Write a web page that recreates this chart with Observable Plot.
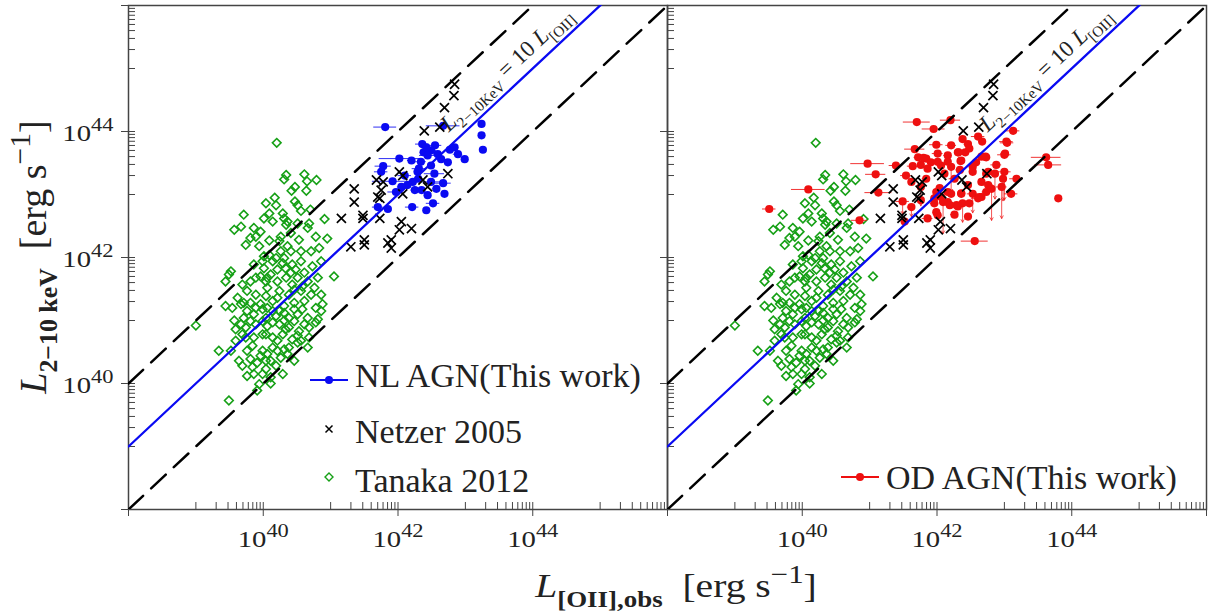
<!DOCTYPE html>
<html><head><meta charset="utf-8">
<script src="https://cdn.jsdelivr.net/npm/d3@7"></script>
<script src="https://cdn.jsdelivr.net/npm/@observablehq/plot@0.6"></script>
<style>
body{margin:0;background:#fff;}
#wrap{position:relative;width:1208px;height:612px;overflow:hidden;background:#fff;}
#wrap > *{position:absolute;top:0;}
#wrap svg text{font-family:'Liberation Serif','DejaVu Serif',serif;}
</style></head><body><div id="wrap"></div>
<script>
// ---------------- data (log10 of luminosities, erg/s) ----------------
// Tanaka 2012 (green diamonds)
const tanakaLogOII = [
 40.20,40.34,40.31,40.61,40.65,40.79,40.42,40.47,40.64,40.17,
 40.04,40.19,40.29,40.09,40.47,40.51,40.56,40.70,39.71,40.01,
 40.14,40.31,40.36,39.57,39.67,39.86,39.96,40.34,40.51,40.68,
 40.91,39.81,39.89,40.26,40.41,40.66,40.78,40.95,39.74,39.94,
 40.09,40.24,40.36,40.53,40.71,40.83,40.09,40.26,40.41,40.56,
 39.52,39.44,39.49,39.86,39.99,40.14,40.29,40.43,40.56,40.73,
 40.86,41.05,39.69,39.81,39.96,40.11,40.21,40.34,40.51,40.66,
 40.81,39.62,39.76,39.89,40.06,40.24,40.38,40.56,40.76,40.86,
 39.44,39.67,39.81,39.96,40.14,40.31,40.46,40.61,40.88,39.57,
 39.71,39.86,40.04,40.19,40.31,40.51,40.66,40.81,40.86,39.59,
 39.74,39.89,40.06,40.24,40.38,40.53,40.68,40.78,39.59,39.86,
 39.99,40.14,40.29,40.43,40.56,40.68,39.34,39.52,39.84,39.99,
 40.14,40.31,40.51,40.66,39.64,39.81,39.96,40.11,40.26,39.69,
 39.84,40.04,40.19,39.76,39.99,40.29,39.94,40.11,39.91,39.49,
 39.00,40.01,40.21,40.41,40.04,40.21,40.46,40.14,40.31,39.99,
 39.76,40.38,40.04,40.21,40.36,39.76,40.46,39.91,40.06,40.31,
 40.61,40.71,40.78,40.58,39.69,39.54,40.01,40.19,40.33,40.48,
 39.89,40.04,40.43,40.58,39.71,39.89,40.06,40.24,40.46,39.67,
 39.81,39.99,40.14,40.46,40.61,39.74,40.33,40.51,40.06,40.21,
 40.38,40.04,39.86,40.11
];
const tanakaLogLX = [
 43.82,43.31,43.24,43.32,43.21,43.23,43.06,43.12,43.06,42.95,
 42.86,42.83,42.70,42.70,42.89,42.83,42.74,42.76,42.68,42.62,
 42.57,42.62,42.57,42.44,42.49,42.47,42.41,42.52,42.54,42.54,
 42.61,42.31,42.33,42.33,42.39,42.47,42.33,42.30,42.20,42.18,
 42.27,42.26,42.18,42.28,42.10,42.15,42.04,42.10,42.10,42.10,
 41.78,41.62,41.73,41.89,41.94,41.94,41.91,41.89,41.94,41.86,
 41.94,41.70,41.57,41.62,41.70,41.73,41.62,41.68,41.68,41.62,
 41.68,41.36,41.47,41.41,41.52,41.47,41.41,41.47,41.52,41.41,
 41.23,41.26,41.28,41.26,41.31,41.23,41.28,41.31,41.26,41.00,
 41.04,41.10,41.04,41.07,41.00,41.10,41.04,41.02,41.15,40.86,
 40.89,40.94,40.91,40.94,40.89,40.83,40.89,40.97,40.68,40.73,
 40.78,40.73,40.78,40.70,40.68,40.73,40.52,40.52,40.60,40.52,
 40.57,40.54,40.65,40.57,40.36,40.39,40.44,40.36,40.41,40.28,
 40.26,40.23,40.28,40.12,40.15,40.15,39.99,40.00,39.89,39.73,
 40.92,41.83,41.81,41.76,41.39,41.36,41.49,41.15,41.12,41.18,
 41.15,41.04,40.78,40.68,40.47,40.52,40.36,40.33,41.68,41.99,
 41.76,41.41,41.20,41.18,40.78,41.20,42.02,41.99,41.83,41.81,
 41.68,41.62,41.57,41.54,41.28,41.20,41.20,41.15,41.18,40.94,
 40.99,40.99,40.97,40.99,40.94,40.73,40.86,40.76,40.47,40.52,
 40.57,40.36,40.15,40.10
];
// Netzer 2005 (black crosses)
const netzerLogOII = [42.84,42.83,42.69,42.62,42.39,42.02,42.07,41.68,41.78,41.75,
 41.70,41.73,41.35,41.35,42.07,42.37,42.44,42.74,41.16,41.48,
 41.48,41.73,42.05,42.02,42.20,41.30,41.50,41.50,41.85,41.90,41.90];
const netzerLogLX = [44.75,44.57,44.38,44.07,44.01,43.36,43.30,43.23,43.20,43.07,
 42.96,42.94,43.09,42.88,43.01,43.23,43.12,43.33,42.62,42.67,
 42.62,42.62,42.57,42.44,42.46,42.17,42.28,42.20,42.23,42.28,42.15];
// NL AGN, this work (blue) with [OII] error (dex)
const nlLogOII = [41.81,42.67,43.24,43.24,43.26,42.36,42.55,42.38,42.49,42.44,
 42.77,42.84,42.99,42.02,42.20,42.34,42.64,41.78,42.31,42.29,
 42.54,41.92,42.10,42.22,42.49,42.67,42.69,42.35,42.25,42.14,
 41.97,41.70,41.85,42.21,42.42,42.52,42.49,42.59,42.42,42.05,
 42.30,42.74,42.89,41.75,42.44,42.57];
const nlLogLX = [44.07,44.09,44.12,43.94,43.71,43.80,43.78,43.67,43.70,43.62,
 43.71,43.75,43.56,43.57,43.54,43.52,43.56,43.45,43.41,43.36,
 43.33,43.21,43.30,43.20,43.20,43.18,43.01,43.07,43.07,43.15,
 43.04,42.80,42.77,42.80,42.75,42.86,43.46,43.64,43.75,43.12,
 43.25,43.51,43.64,43.36,42.99,43.09];
const nlErrOII = [0.17,0.25,0,0,0,0.10,0.10,0.05,0.08,0.12,
 0.06,0.05,0,0.30,0.06,0.08,0.05,0.12,0.10,0.05,
 0.15,0.30,0.10,0.08,0.15,0.12,0,0.05,0.06,0.05,
 0.12,0.08,0.05,0.10,0,0.10,0.05,0.06,0.05,0.06,
 0.05,0,0.07,0.10,0.05,0.06];
// OD AGN, this work (red) with [OII] error (dex) and upper-limit arrow length (dex)
const odLogOII = [41.70,41.95,42.20,43.13,43.03,42.38,42.46,42.48,42.42,42.21,
 42.61,41.99,41.67,41.72,41.84,42.01,42.16,42.31,42.73,43.00,
 42.58,42.53,40.97,41.09,41.39,41.64,41.76,41.91,42.06,42.21,
 42.36,42.88,42.76,42.86,43.00,42.98,43.62,43.65,43.18,41.54,
 41.84,42.11,42.26,41.62,41.76,41.13,41.49,41.62,41.76,41.99,
 42.06,42.21,42.36,42.53,42.66,42.73,42.81,42.96,43.10,41.96,
 42.09,42.16,42.29,42.38,42.61,43.80,41.99,42.26,42.46,41.86,
 40.85,42.56,41.52,40.09,39.51,42.67,43.04,42.32,42.35,42.66,
 42.72,43.01,41.80,41.86,42.01,42.16,42.34,42.53,42.73,42.66,
 42.76,42.46,42.36,42.16,42.04,41.96,42.19,42.31,42.48,42.63,42.01];
const odLogLX = [44.15,44.04,44.18,44.01,43.84,43.88,43.80,43.73,43.67,43.78,
 43.92,43.79,43.72,43.59,43.57,43.65,43.62,43.67,43.59,43.63,
 43.51,43.44,43.49,43.32,43.46,43.45,43.47,43.51,43.46,43.44,
 43.54,43.47,43.36,43.33,43.36,43.25,43.59,43.47,43.25,43.30,
 43.25,43.33,43.25,43.20,43.12,43.03,42.89,42.80,42.91,43.04,
 42.96,43.01,43.01,43.01,42.96,43.04,43.09,43.12,43.01,42.86,
 42.88,42.88,42.83,42.86,42.94,42.94,42.72,42.68,42.65,42.62,
 42.59,42.26,42.57,43.08,42.77,43.84,43.82,43.67,43.53,43.60,
 43.60,43.65,43.58,43.41,43.52,43.52,43.39,43.36,43.33,43.20,
 43.15,43.15,43.02,43.04,43.10,42.94,42.83,42.81,42.86,42.96,42.67];
const odErrOII = [0.20,0.17,0.15,0.10,0.10,0.05,0.06,0.05,0.05,0.08,
 0.10,0.10,0.15,0.06,0.05,0.08,0.06,0.05,0.05,0.10,
 0.06,0.05,0.25,0.15,0.10,0.08,0.05,0.05,0.06,0.05,
 0.05,0.08,0.05,0.06,0.10,0.05,0.22,0.20,0.10,0.08,
 0.06,0.05,0.08,0.05,0.06,0.20,0.10,0.06,0.05,0.05,
 0.08,0.06,0.05,0.08,0.05,0.06,0.05,0.08,0.10,0.06,
 0.05,0.06,0.05,0.05,0.10,0,0.05,0.06,0.05,0.08,
 0.12,0.20,0.05,0.25,0.10,0.05,0.10,0.05,0.05,0.06,
 0.05,0.06,0.05,0.05,0.05,0.05,0.06,0.05,0.05,0.05,
 0.08,0.05,0.05,0.05,0.06,0.05,0.06,0.05,0.05,0.05,0.05];
const odLimit = [0,0,0,0,0,0,0,0,0,0,
 0,0,0,0,0,0,0,0,0,0,
 0,0,0,0,0,0,0,0,0,0.40,
 0,0,0,0.40,0.45,0.35,0,0,0,0,
 0,0,0,0,0.30,0,0.20,0.15,0,0,
 0,0,0,0.30,0,0,0.50,0.50,0,0,
 0.50,0,0,0.30,0,0,0,0,0,0,
 0,0,0,0,0,0,0,0,0,0,
 0,0,0,0,0,0,0,0,0,0,
 0,0,0,0,0,0,0,0,0,0,0];

// reference relations L_X = ratio * L_[OII]
const ratios = [1, 10, 100];
const relationSpanLogOII = [38, 46];
const annotationLogOII = 43.78;      // where the "=10 L" label sits along the ratio-10 line

// axes
const axisDomain = [1e38, 1e46];
const majorTicks = [1e38, 1e40, 1e42, 1e44, 1e46];
const labelTicks = [1e40, 1e42, 1e44];
const minorDecades = [39, 41, 43, 45];
const minorMultipliers = [1,2,3,4,5,6,7,8,9];

// ---------------- styling ----------------
const SERIF = "'Liberation Serif', 'DejaVu Serif', serif";
const BLUE = "#0a0af2", RED = "#ee1010", GREEN = "#16a016", AX = "#444";

// ---------------- build rows ----------------
const tanaka = tanakaLogOII.map((v, i) => ({x: 10 ** v, y: 10 ** tanakaLogLX[i]}));
const netzer = netzerLogOII.map((v, i) => ({x: 10 ** v, y: 10 ** netzerLogLX[i]}));
const nl = nlLogOII.map((v, i) => ({x: 10 ** v, y: 10 ** nlLogLX[i], x1: 10 ** (v - nlErrOII[i]), x2: 10 ** (v + nlErrOII[i]), e: nlErrOII[i]}));
const od = odLogOII.map((v, i) => ({x: 10 ** v, y: 10 ** odLogLX[i], x1: 10 ** (v - odErrOII[i]), x2: 10 ** (v + odErrOII[i]), e: odErrOII[i],
  lim: odLimit[i], yl: 10 ** (odLogLX[i] - odLimit[i])}));
const minorTicks = minorDecades.flatMap(n => minorMultipliers.map(k => k * 10 ** n));
const relLines = ratios.flatMap(r => relationSpanLogOII.map(v => ({r, x: 10 ** v, y: r * 10 ** v})));
const annot = [{x: 10 ** annotationLogOII, y: 10 * 10 ** annotationLogOII}];
const expLabel = d => `10^{${Math.round(Math.log10(d))}}`;

const W = 539, H = 504;
const angle = -Math.atan((H / 8) / (W / 8)) * 180 / Math.PI;

function panel({width, marginLeft, marginRight, showY, pts, color, limits}) {
  const marks = [
    Plot.axisX({ticks: minorTicks, tickSize: 7, dy: -7, fill: "none", stroke: AX, label: null}),
    Plot.axisX({ticks: majorTicks, tickSize: 14, dy: -7, fill: "none", stroke: AX, label: null}),
    Plot.axisY({ticks: minorTicks, tickSize: 7, dx: 7, fill: "none", stroke: AX, label: null}),
    Plot.axisY({ticks: majorTicks, tickSize: 14, dx: 7, fill: "none", stroke: AX, label: null}),
    Plot.frame({stroke: AX, strokeWidth: 1.5}),
    Plot.dot(tanaka, {x: "x", y: "y", symbol: "diamond2", r: 3.9, stroke: GREEN, strokeWidth: 1.6, fill: "none"}),
    Plot.ruleY(pts.filter(d => d.e > 0), {y: "y", x1: "x1", x2: "x2", stroke: color, strokeWidth: 1, strokeOpacity: 0.85}),
  ];
  if (limits) marks.push(Plot.arrow(pts.filter(d => d.lim > 0), {x1: "x", x2: "x", y1: "y", y2: "yl", stroke: color, strokeWidth: 0.9, strokeOpacity: 0.8, headLength: 5}));
  marks.push(
    Plot.dot(pts, {x: "x", y: "y", r: 4.1, fill: color, stroke: "none"}),
    Plot.dot(netzer, {x: "x", y: "y", symbol: "times", r: 4.2, stroke: "black", strokeWidth: 1.7, fill: "none"}),
    Plot.line(relLines.filter(d => d.r !== 10), {x: "x", y: "y", z: "r", stroke: "black", strokeWidth: 2.5, strokeDasharray: "20,11", clip: true}),
    Plot.line(relLines.filter(d => d.r === 10), {x: "x", y: "y", stroke: BLUE, strokeWidth: 2.3, clip: true}),
    Plot.text(annot, {x: "x", y: "y", text: () => "*L*_{2−10KeV} = 10 *L*_{[OII]}", rotate: angle, dx: -7, dy: -8,
      lineAnchor: "bottom", textAnchor: "middle", fontSize: 23, fontFamily: SERIF, fill: "#222"}),
    Plot.text(labelTicks, {x: d => d, frameAnchor: "bottom", text: expLabel, dy: 37, lineAnchor: "bottom", fontSize: 23, fontFamily: SERIF, fill: "#222"})
  );
  if (showY) marks.push(Plot.text(labelTicks, {y: d => d, frameAnchor: "left", text: expLabel, textAnchor: "end", dx: -15, dy: 9, lineAnchor: "bottom", fontSize: 23, fontFamily: SERIF, fill: "#222"}));
  return Plot.plot({
    width, height: 560, marginLeft, marginRight, marginTop: 5, marginBottom: 51,
    style: {background: "transparent", overflow: "visible", fontFamily: SERIF},
    x: {type: "log", domain: axisDomain},
    y: {type: "log", domain: axisDomain},
    marks
  });
}

function richify(root) {
  root.querySelectorAll("text").forEach(t => {
    const s = t.textContent;
    if (!/[_^]b?\{|\*/.test(s)) return;
    const fs = parseFloat(getComputedStyle(t).fontSize) || 16;
    if (/^10\^\{/.test(s)) {             // power-of-ten tick labels: slightly wider glyphs as in the original
      const tr = t.getAttribute("transform");
      if (tr) t.setAttribute("transform", tr + " scale(1.25,1)");
    }
    const parts = s.split(/(\*[^*]+\*|_b?\{[^}]*\}|\^\{[^}]*\})/).filter(p => p !== "");
    t.textContent = "";
    let shift = 0;
    for (const p of parts) {
      const ts = document.createElementNS("http://www.w3.org/2000/svg", "tspan");
      let target = 0, txt = p, size = null, italic = false, bold = false;
      if (p.startsWith("_b{")) { target = 0.3 * fs; txt = p.slice(3, -1); size = 0.68 * fs; bold = true; }
      else if (p.startsWith("_{")) { target = 0.28 * fs; txt = p.slice(2, -1); size = 0.66 * fs; }
      else if (p.startsWith("^{")) { target = -0.42 * fs; txt = p.slice(2, -1); size = 0.78 * fs; }
      else if (p.length > 2 && p[0] === "*" && p[p.length - 1] === "*") { txt = p.slice(1, -1); italic = true; }
      if (target !== shift) ts.setAttribute("dy", target - shift);
      shift = target;
      if (size) ts.setAttribute("font-size", size);
      if (italic) ts.setAttribute("font-style", "italic");
      if (bold) ts.setAttribute("font-weight", "bold");
      ts.textContent = txt;
      t.appendChild(ts);
    }
  });
}

const wrap = document.getElementById("wrap");
const left = panel({width: 668, marginLeft: 128, marginRight: 1, showY: true, pts: nl, color: BLUE, limits: false});
left.style.left = "0px";
wrap.appendChild(left);
const right = panel({width: 548, marginLeft: 7, marginRight: 2, showY: false, pts: od, color: RED, limits: true});
right.style.left = "660px";
wrap.appendChild(right);

// ---------------- axis titles and legends ----------------
const ov = d3.select(wrap).append("svg").attr("width", 1208).attr("height", 612)
  .style("left", "0px").style("pointer-events", "none").style("font-family", SERIF).attr("fill", "#222");
ov.append("text").attr("transform", "translate(46,257) rotate(-90)").attr("text-anchor", "middle")
  .style("font-size", "38px").text("*L*_b{2−10 keV}\u00a0\u00a0[erg s^{−1}]");
ov.append("text").attr("transform", "translate(676,597) scale(1.2,1)").attr("text-anchor", "middle")
  .style("font-size", "33px").text("*L*_b{[OII],obs}\u00a0\u00a0[erg s^{−1}]");

const legendEntries = [
  {label: "NL AGN(This work)", kind: "linedot", color: BLUE, mx: 329, my: 380, tx: 355, ty: 387},
  {label: "Netzer 2005", kind: "times", color: "black", mx: 329, my: 429, tx: 355, ty: 443},
  {label: "Tanaka 2012", kind: "diamond", color: GREEN, mx: 329, my: 477, tx: 355, ty: 492},
  {label: "OD AGN(This work)", kind: "linedot", color: RED, mx: 860, my: 477, tx: 886, ty: 489}
];
for (const e of legendEntries) {
  const g = ov.append("g");
  if (e.kind === "linedot") {
    g.append("line").attr("x1", e.mx - 19).attr("x2", e.mx + 19).attr("y1", e.my).attr("y2", e.my).attr("stroke", e.color).attr("stroke-width", 1.8);
    g.append("circle").attr("cx", e.mx).attr("cy", e.my).attr("r", 4).attr("fill", e.color);
  } else if (e.kind === "times") {
    g.append("path").attr("d", `M${e.mx-3.5},${e.my-3.5}L${e.mx+3.5},${e.my+3.5}M${e.mx-3.5},${e.my+3.5}L${e.mx+3.5},${e.my-3.5}`).attr("stroke", e.color).attr("stroke-width", 1.5);
  } else {
    g.append("path").attr("d", `M${e.mx},${e.my-4}L${e.mx+4},${e.my}L${e.mx},${e.my+4}L${e.mx-4},${e.my}Z`).attr("stroke", e.color).attr("stroke-width", 1.4).attr("fill", "none");
  }
  g.append("text").attr("x", e.tx).attr("y", e.ty).style("font-size", "34px").text(e.label);
}
richify(wrap);
</script></body></html>
